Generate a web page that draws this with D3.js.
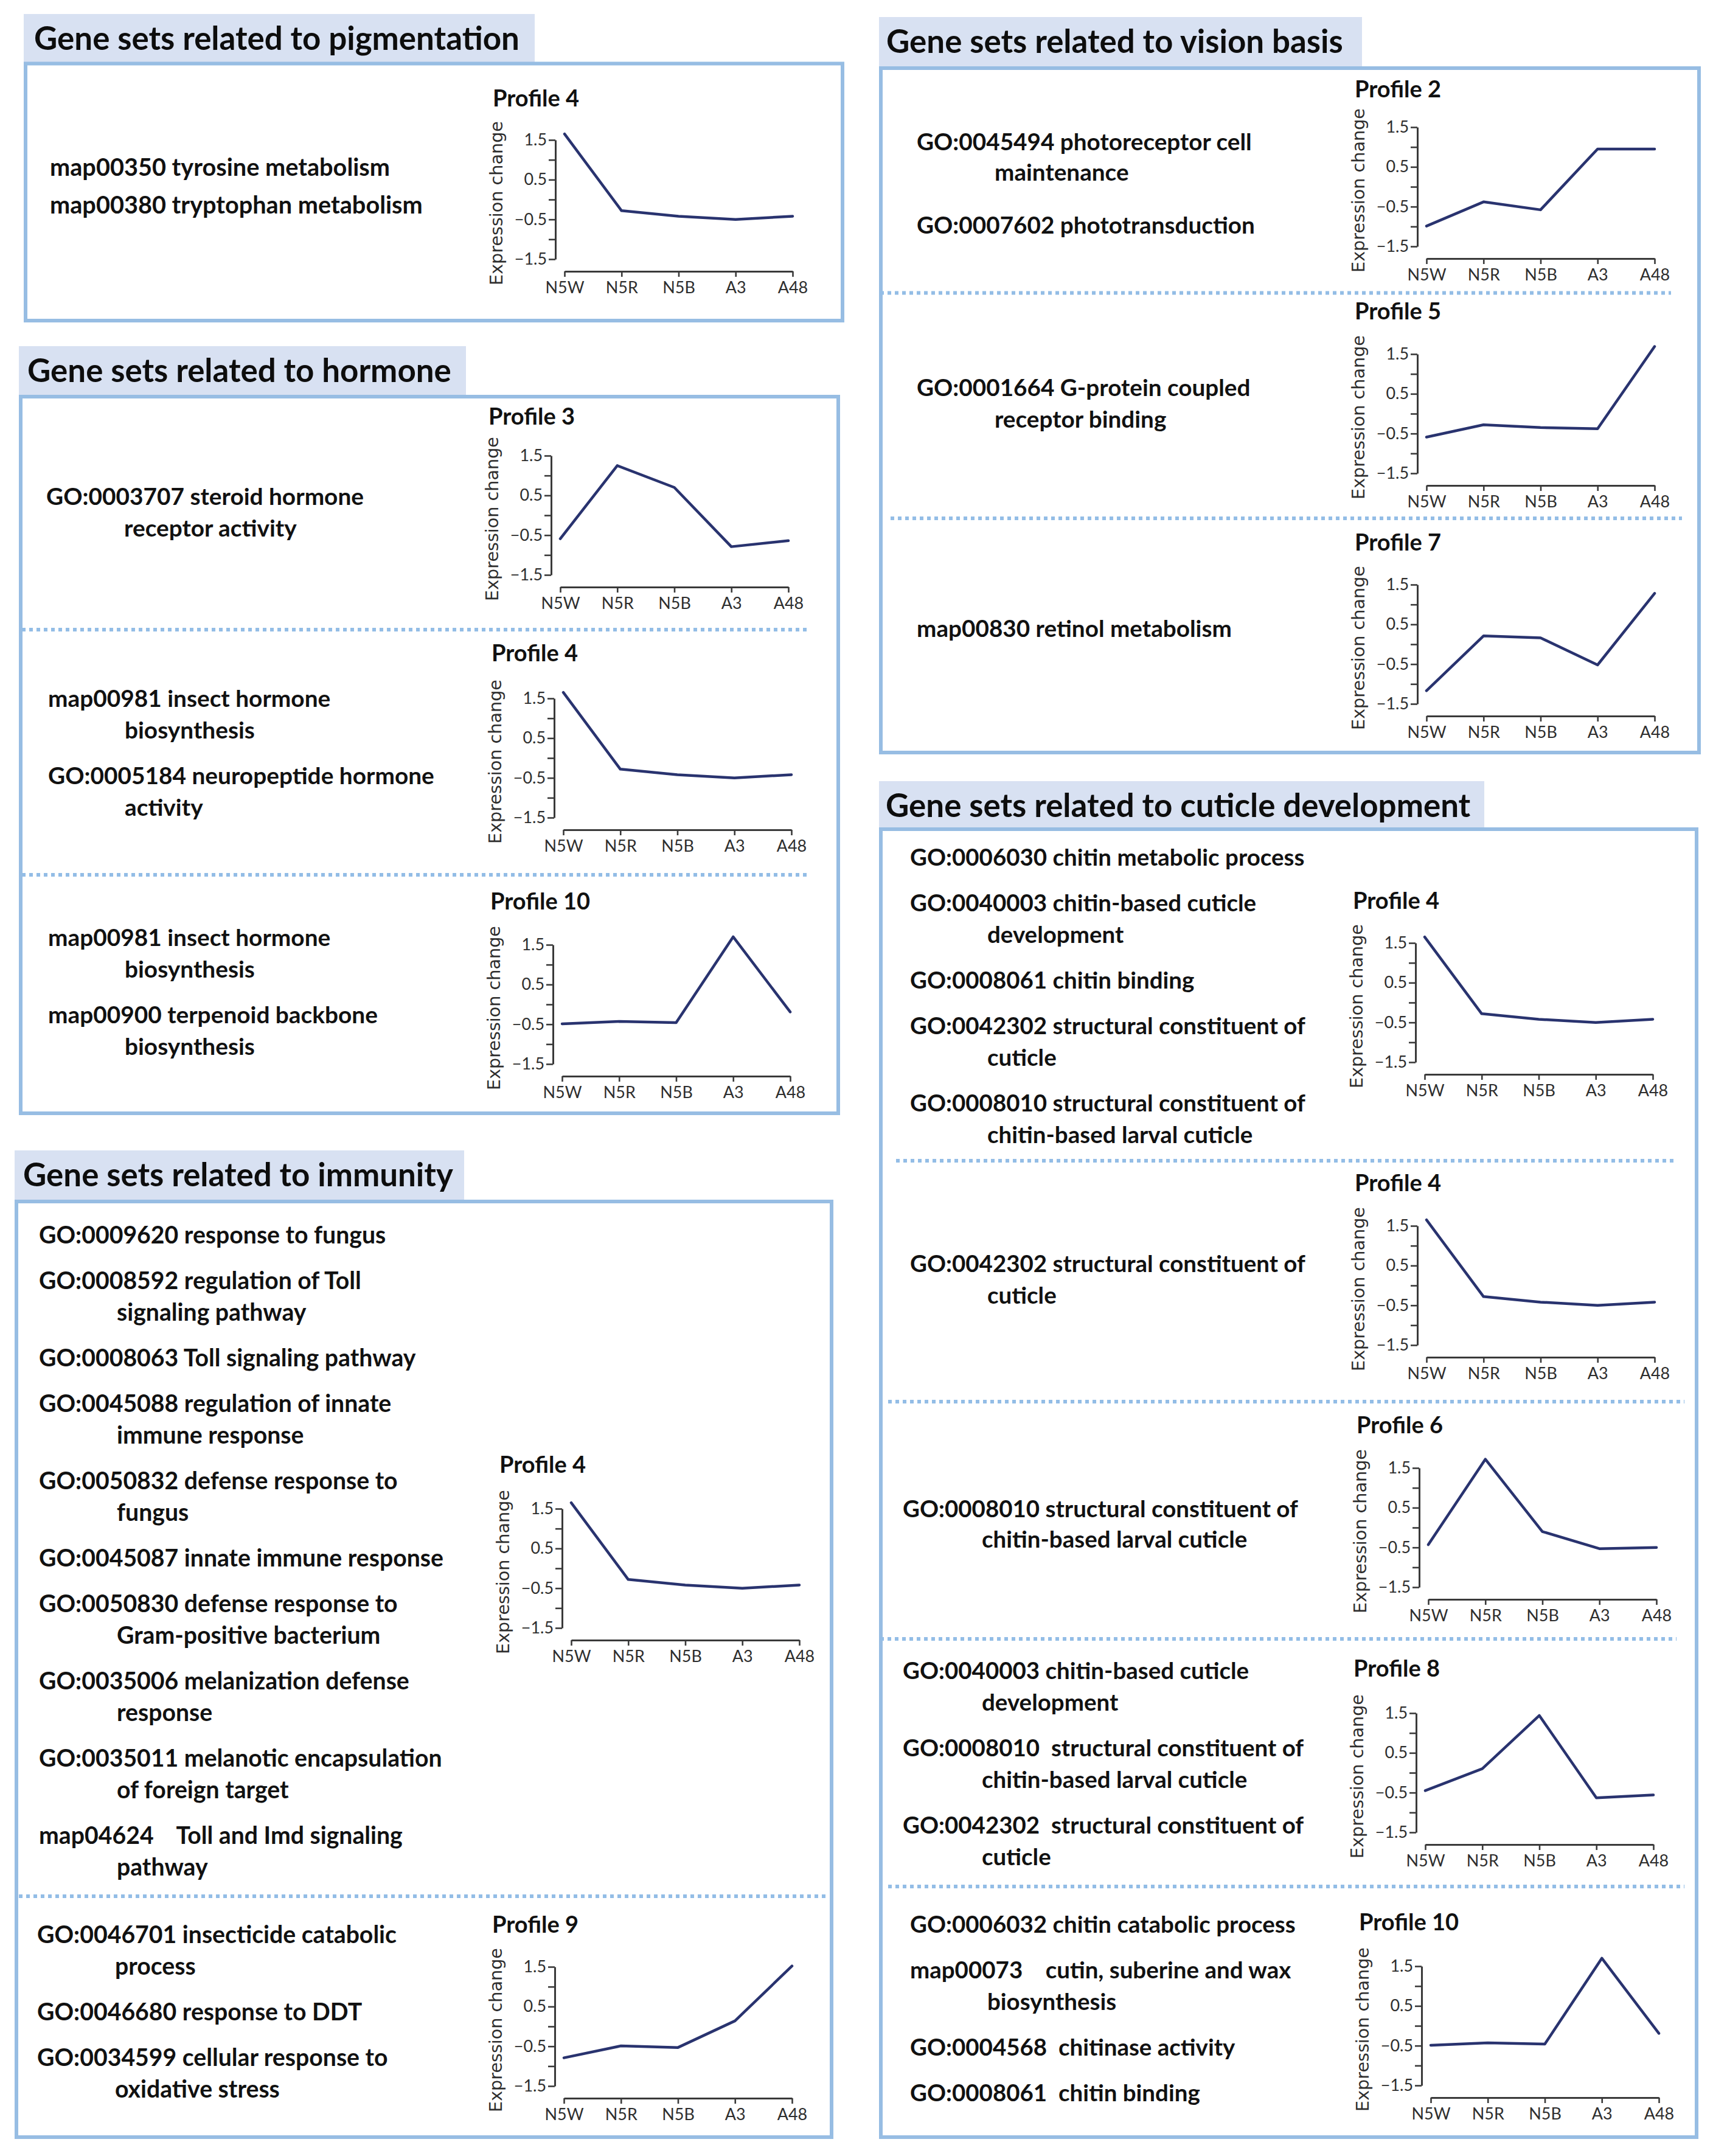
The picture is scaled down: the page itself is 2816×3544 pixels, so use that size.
<!DOCTYPE html>
<html><head><meta charset="utf-8">
<script src="https://cdn.jsdelivr.net/npm/d3@7"></script>
<style>
html,body{margin:0;padding:0;background:#fff;}
svg{display:block;}
text{white-space:pre;}
</style></head><body>
<svg id="fig" width="2816" height="3544"></svg>
<script>
// ---------------- data ----------------
const categories = ["N5W", "N5R", "N5B", "A3", "A48"];
const yTickValues = [-1.5, -1, -0.5, 0, 0.5, 1, 1.5];
const yTickLabels = ["\u22121.5", "", "\u22120.5", "", "0.5", "", "1.5"];
const yAxisTitle = "Expression change";

const profile2  = [-0.99, -0.38, -0.58, 0.95, 0.95];
const profile3  = [-0.59, 1.25, 0.70, -0.79, -0.64];
const profile4  = [1.65, -0.28, -0.42, -0.50, -0.42];
const profile5  = [-0.59, -0.28, -0.35, -0.38, 1.69];
const profile6  = [-0.43, 1.72, -0.10, -0.53, -0.50];
const profile7  = [-1.17, 0.21, 0.16, -0.52, 1.28];
const profile8  = [-0.45, 0.10, 1.44, -0.63, -0.56];
const profile9  = [-0.79, -0.49, -0.53, 0.14, 1.52];
const profile10 = [-0.49, -0.43, -0.46, 1.70, -0.19];

const headerTitles = ["Gene sets related to pigmentation", "Gene sets related to hormone",
  "Gene sets related to immunity", "Gene sets related to vision basis",
  "Gene sets related to cuticle development"];

const pigmentationSets = [["map00350 tyrosine metabolism"], ["map00380 tryptophan metabolism"]];
const hormoneSets1 = [["GO:0003707 steroid hormone", "receptor activity"]];
const hormoneSets2 = [["map00981 insect hormone", "biosynthesis"], ["GO:0005184 neuropeptide hormone", "activity"]];
const hormoneSets3 = [["map00981 insect hormone", "biosynthesis"], ["map00900 terpenoid backbone", "biosynthesis"]];
const immunitySets1 = [
  ["GO:0009620 response to fungus"],
  ["GO:0008592 regulation of Toll", "signaling pathway"],
  ["GO:0008063 Toll signaling pathway"],
  ["GO:0045088 regulation of innate", "immune response"],
  ["GO:0050832 defense response to", "fungus"],
  ["GO:0045087 innate immune response"],
  ["GO:0050830 defense response to", "Gram-positive bacterium"],
  ["GO:0035006 melanization defense", "response"],
  ["GO:0035011 melanotic encapsulation", "of foreign target"],
  ["map04624    Toll and Imd signaling", "pathway"]];
const immunitySets2 = [["GO:0046701 insecticide catabolic", "process"], ["GO:0046680 response to DDT"],
  ["GO:0034599 cellular response to", "oxidative stress"]];
const visionSets1 = [["GO:0045494 photoreceptor cell", "maintenance"], ["GO:0007602 phototransduction"]];
const visionSets2 = [["GO:0001664 G-protein coupled", "receptor binding"]];
const visionSets3 = [["map00830 retinol metabolism"]];
const cuticleSets1 = [["GO:0006030 chitin metabolic process"], ["GO:0040003 chitin-based cuticle", "development"],
  ["GO:0008061 chitin binding"], ["GO:0042302 structural constituent of", "cuticle"],
  ["GO:0008010 structural constituent of", "chitin-based larval cuticle"]];
const cuticleSets2 = [["GO:0042302 structural constituent of", "cuticle"]];
const cuticleSets3 = [["GO:0008010 structural constituent of", "chitin-based larval cuticle"]];
const cuticleSets4 = [["GO:0040003 chitin-based cuticle", "development"],
  ["GO:0008010  structural constituent of", "chitin-based larval cuticle"],
  ["GO:0042302  structural constituent of", "cuticle"]];
const cuticleSets5 = [["GO:0006032 chitin catabolic process"], ["map00073    cutin, suberine and wax", "biosynthesis"],
  ["GO:0004568  chitinase activity"], ["GO:0008061  chitin binding"]];

// ---------------- layout ----------------
const FONT = "Lato, 'Open Sans', 'Noto Sans', sans-serif";
const YFONT = "'DejaVu Sans', Verdana, sans-serif";
const BORDER = "#97bde3", HEADFILL = "#d8e1f2", DOTS = "#93bde6", LINE = "#29336f", AXIS = "#3a3a3a";

const panels = [
  { title: headerTitles[0], box: [42, 104.5, 1385, 527], head: [42, 23, 879], tx: 56,
    fitRef: ["map00380 tryptophan metabolism", 613],
    groups: [{ sets: pigmentationSets, x: 82, ix: 208, y: 289, itemGap: 62 }],
    charts: [{ X: 913, Y: 230, ty: 175, name: "Profile 4", values: profile4 }],
    seps: [] },
  { title: headerTitles[1], box: [34, 652, 1378, 1830], head: [34, 569, 766], tx: 45,
    fitRef: ["GO:0005184 neuropeptide hormone", 635],
    groups: [{ sets: hormoneSets1, x: 76, ix: 204, y: 830 },
             { sets: hormoneSets2, x: 79, ix: 205, y: 1162 },
             { sets: hormoneSets3, x: 79, ix: 205, y: 1555 }],
    charts: [{ X: 906, Y: 749, ty: 698, name: "Profile 3", values: profile3 },
             { X: 911, Y: 1148, ty: 1087, name: "Profile 4", values: profile4 },
             { X: 909, Y: 1553, ty: 1495, name: "Profile 10", values: profile10 }],
    seps: [[1035, 36, 1330], [1438, 36, 1330]] },
  { title: headerTitles[2], box: [27, 1975, 1367, 3513], head: [27, 1891, 763], tx: 38,
    fitRef: ["GO:0045087 innate immune response", 665],
    groups: [{ sets: immunitySets1, x: 64, ix: 192, y: 2044 },
             { sets: immunitySets2, x: 61, ix: 189, y: 3194 }],
    charts: [{ X: 924, Y: 2480, ty: 2421, name: "Profile 4", values: profile4 },
             { X: 912, Y: 3233, ty: 3177, name: "Profile 9", values: profile9 }],
    seps: [[3117, 31, 1357]] },
  { title: headerTitles[3], box: [1448, 112, 2793, 1237], head: [1448, 28, 2239], tx: 1457,
    fitRef: ["GO:0007602 phototransduction", 556],
    groups: [{ sets: visionSets1, x: 1507, ix: 1635, y: 247, lineGap: 50, itemGap: 87 },
             { sets: visionSets2, x: 1507, ix: 1635, y: 651 },
             { sets: visionSets3, x: 1507, ix: 1635, y: 1047 }],
    charts: [{ X: 2330, Y: 209, ty: 160, name: "Profile 2", values: profile2 },
             { X: 2330, Y: 582, ty: 525, name: "Profile 5", values: profile5 },
             { X: 2330, Y: 961, ty: 905, name: "Profile 7", values: profile7 }],
    seps: [[481.5, 1447, 2747], [852, 1464, 2765]] },
  { title: headerTitles[4], box: [1448, 1363, 2789, 3513], head: [1448, 1284, 2440], tx: 1456,
    fitRef: ["GO:0042302 structural constituent of", 650],
    groups: [{ sets: cuticleSets1, x: 1496, ix: 1623, y: 1423 },
             { sets: cuticleSets2, x: 1496, ix: 1623, y: 2091 },
             { sets: cuticleSets3, x: 1484, ix: 1614, y: 2494, lineGap: 50 },
             { sets: cuticleSets4, x: 1484, ix: 1614, y: 2760 },
             { sets: cuticleSets5, x: 1496, ix: 1623, y: 3177 }],
    charts: [{ X: 2327, Y: 1550, ty: 1494, name: "Profile 4", values: profile4 },
             { X: 2330, Y: 2015, ty: 1958, name: "Profile 4", values: profile4 },
             { X: 2333, Y: 2413, ty: 2356, name: "Profile 6", values: profile6 },
             { X: 2328, Y: 2816, ty: 2756, name: "Profile 8", values: profile8 },
             { X: 2337, Y: 3232, ty: 3173, name: "Profile 10", values: profile10 }],
    seps: [[1908, 1473, 2756], [2304, 1460, 2769], [2694, 1447, 2756], [3101, 1460, 2769]] }
];

// ---------------- drawing ----------------
const svg = d3.select("#fig");
svg.append("rect").attr("width", 2816).attr("height", 3544).attr("fill", "#fff");

const measurer = svg.append("text").attr("x", -9000).attr("y", -9000).attr("xml:space", "preserve");
function fit(str, target, family, weight) {
  measurer.attr("font-family", family).attr("font-weight", weight).attr("font-size", 100).text(str);
  const w = measurer.node().getComputedTextLength();
  return 100 * target / w;
}
const headSize = fit(headerTitles[0], 798, FONT, 700);
const titleSize = fit("Profile 9", 142, FONT, 700);
const tickFont = fit("N5W", 64, FONT, 400);
const ylabSize = fit(yAxisTitle, 270, YFONT, 400);

const yScaleSpan = 196, xFirst = 15, xLast = 390, xAxisGap = 20;

function drawChart(g, c) {
  const y = d3.scaleLinear().domain([-1.5, 1.5]).range([c.Y + yScaleSpan, c.Y]);
  const x = d3.scalePoint().domain(categories).range([c.X + xFirst, c.X + xLast]);
  const xAxisY = c.Y + yScaleSpan + xAxisGap;

  const ya = g.append("g").attr("transform", `translate(${c.X},0)`)
    .call(d3.axisLeft(y).tickValues(yTickValues).tickFormat((d, i) => yTickLabels[i])
      .tickSize(11).tickSizeOuter(0).tickPadding(3));
  const xa = g.append("g").attr("transform", `translate(0,${xAxisY})`)
    .call(d3.axisBottom(x).tickSize(9).tickSizeOuter(0).tickPadding(8));
  [ya, xa].forEach(a => {
    a.select(".domain").attr("stroke", AXIS).attr("stroke-width", 3);
    a.selectAll(".tick line").attr("stroke", AXIS).attr("stroke-width", 2.6);
    a.selectAll(".tick text").attr("fill", "#2e2e2e").attr("font-family", FONT)
      .attr("font-size", tickFont);
  });
  ya.attr("font-size", tickFont);
  xa.attr("font-size", tickFont);

  g.append("text").attr("x", c.X - 103).attr("y", c.ty)
    .attr("font-family", FONT).attr("font-weight", 700).attr("font-size", titleSize)
    .attr("fill", "#111").text(c.name);

  g.append("text").attr("transform", `translate(${c.X - 97},${c.Y + 104}) rotate(-90)`)
    .attr("text-anchor", "middle").attr("dominant-baseline", "central")
    .attr("font-family", YFONT).attr("font-size", ylabSize).attr("fill", "#2e2e2e")
    .text(yAxisTitle);

  const line = d3.line().x((d, i) => x(categories[i])).y(d => y(d));
  g.append("path").datum(c.values).attr("d", line)
    .attr("fill", "none").attr("stroke", LINE).attr("stroke-width", 4.5)
    .attr("stroke-linejoin", "round").attr("stroke-linecap", "round");
}

panels.forEach(p => {
  const g = svg.append("g");
  const [bx0, by0, bx1, by1] = p.box;
  const [hx0, hy0, hx1] = p.head;
  // header
  g.append("rect").attr("x", hx0 - 3).attr("y", hy0).attr("width", hx1 - hx0 + 3)
    .attr("height", by0 - hy0).attr("fill", HEADFILL);
  g.append("text").attr("x", p.tx).attr("y", hy0 + 59)
    .attr("font-family", FONT).attr("font-weight", 700).attr("font-size", headSize)
    .attr("fill", "#0d0d0d").text(p.title);
  // panel border
  g.append("rect").attr("x", bx0).attr("y", by0).attr("width", bx1 - bx0).attr("height", by1 - by0)
    .attr("fill", "none").attr("stroke", BORDER).attr("stroke-width", 6);
  // dotted separators
  p.seps.forEach(s => {
    g.append("line").attr("x1", s[1]).attr("x2", s[2]).attr("y1", s[0]).attr("y2", s[0])
      .attr("stroke", DOTS).attr("stroke-width", 6).attr("stroke-dasharray", "6,6");
  });
  // text groups
  const bodySize = fit(p.fitRef[0], p.fitRef[1], FONT, 700);
  p.groups.forEach(gr => {
    const lineGap = gr.lineGap || 52, itemGap = gr.itemGap || 75;
    let yy = gr.y;
    gr.sets.forEach((set, si) => {
      if (si > 0) yy += itemGap;
      set.forEach((ln, li) => {
        if (li > 0) yy += lineGap;
        g.append("text").attr("x", li === 0 ? gr.x : gr.ix).attr("y", yy)
          .attr("xml:space", "preserve")
          .attr("font-family", FONT).attr("font-weight", 700).attr("font-size", bodySize)
          .attr("fill", "#111").text(ln);
      });
    });
  });
  p.charts.forEach(c => drawChart(g, c));
});
measurer.remove();
</script>
</body></html>
